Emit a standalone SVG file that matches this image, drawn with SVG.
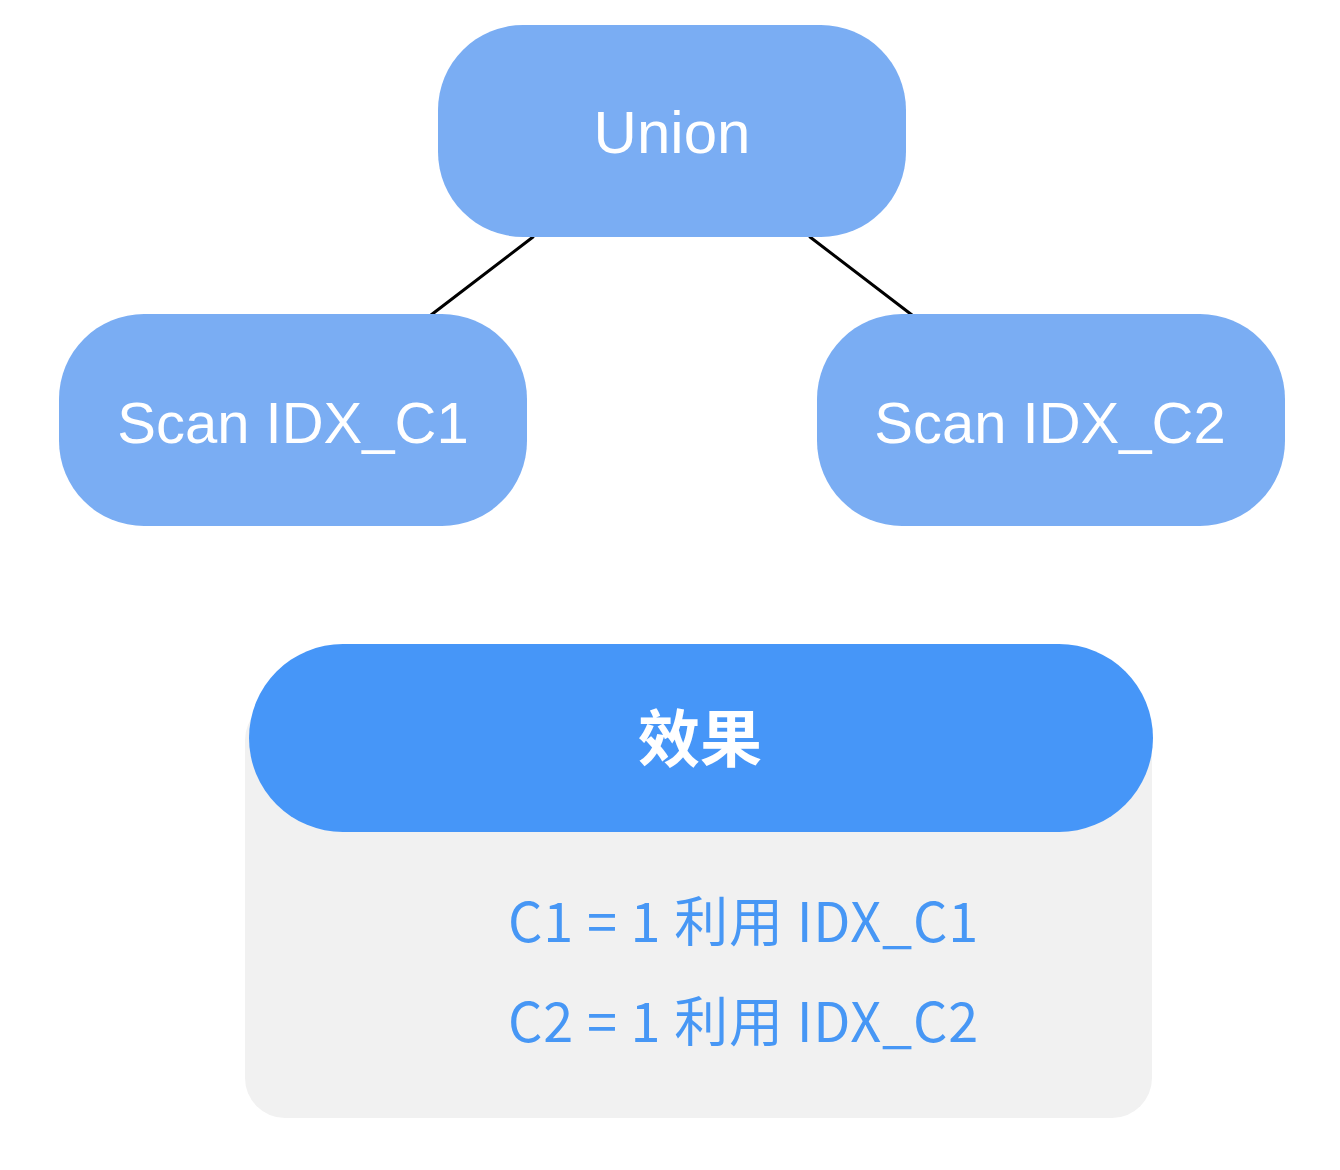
<svg xmlns="http://www.w3.org/2000/svg" width="1340" height="1170" viewBox="0 0 1340 1170">
<style>
.node{fill:#7aadf3}
.lbl{font-family:"Liberation Sans","Noto Sans CJK SC",sans-serif;font-size:60px;fill:#ffffff;text-anchor:middle}
.scan{font-size:58px}
.conn{stroke:#000;stroke-width:3;stroke-linecap:round;fill:none}
.info{font-family:"Noto Sans CJK SC",sans-serif;font-size:54px;letter-spacing:0.8px;fill:#4797f5}
</style>
<rect width="1340" height="1170" fill="#ffffff"/>
<g id="connectors">
<line class="conn" x1="533" y1="237" x2="431" y2="315"/>
<line class="conn" x1="810" y1="237" x2="912" y2="315"/>
</g>
<g id="union">
<rect class="node" x="438" y="25" width="468" height="212" rx="85"/>
<text class="lbl" x="672" y="153">Union</text>
</g>
<g id="scan1">
<rect class="node" x="59" y="314" width="468" height="212" rx="85"/>
<text class="lbl scan" x="293" y="443">Scan IDX_C1</text>
</g>
<g id="scan2">
<rect class="node" x="817" y="314" width="468" height="212" rx="85"/>
<text class="lbl scan" x="1050" y="443">Scan IDX_C2</text>
</g>
<g id="effect">
<rect x="245" y="700" width="907" height="418" rx="40" fill="#f1f1f1"/>
<rect x="249" y="644" width="904" height="188" rx="94" fill="#4696f8"/>
<text x="700" y="762" font-family="'Noto Sans CJK SC',sans-serif" font-size="62" font-weight="bold" fill="#ffffff" text-anchor="middle">效果</text>
<text class="info" x="508" y="942">C1 = 1 利用 IDX_C1</text>
<text class="info" x="508" y="1042">C2 = 1 利用 IDX_C2</text>
</g>
</svg>
